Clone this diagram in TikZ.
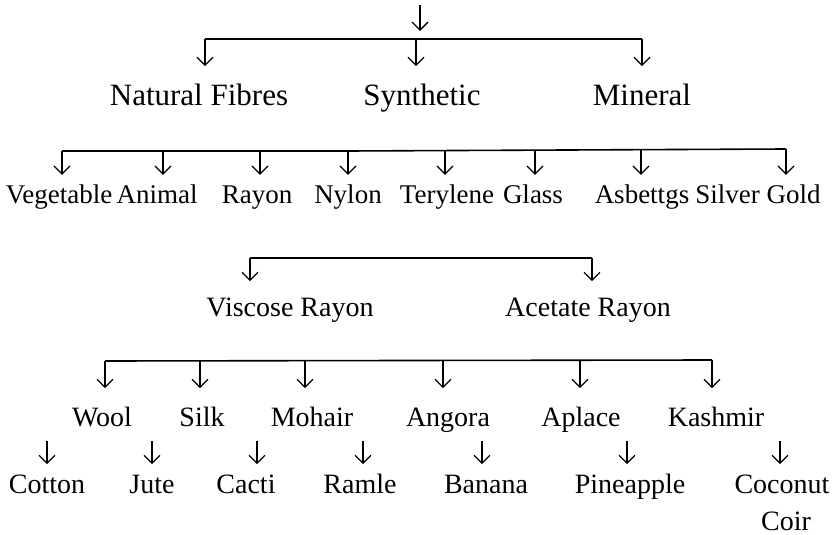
\documentclass[tikz,border=0pt]{standalone}
\usepackage{fontspec}
\setmainfont{Liberation Serif}
\usetikzlibrary{arrows.meta}

\begin{document}
\begin{tikzpicture}[x=1pt,y=-1pt, lbl/.style={anchor=base,inner sep=0pt,text height=19.6pt,text depth=6pt,font=\fontsize{28}{30}\selectfont}, big/.style={lbl,text height=21.7pt,font=\fontsize{31}{33}\selectfont}, sml/.style={lbl,text height=18.9pt,font=\fontsize{27}{29}\selectfont}, bar/.style={line width=1.6pt}, arr/.style={line width=1.3pt,-{Straight Barb[length=8pt,width=16pt]}}]
\useasboundingbox (0,0) rectangle (836,535);
% fibres
\coordinate (top) at (420,5);
\coordinate (b1l) at (205,39); \coordinate (b1m) at (416,39); \coordinate (b1r) at (642,39);
\node[big] (nat) at (199,106) {Natural Fibres};
\node[big] (syn) at (422,106) {Synthetic};
\node[big] (min) at (642,106) {Mineral};
\draw[arr,shorten >=8pt] (top) -- (top |- b1l);
\draw[bar] (b1l) -- (b1r);
\draw[arr,shorten >=18pt] (b1l) -- (b1l |- nat.north); \draw[arr,shorten >=18pt] (b1m) -- (b1m |- syn.north); \draw[arr,shorten >=18pt] (b1r) -- (b1r |- min.north);
% kinds
\coordinate (b2a) at (62,151); \coordinate (b2b) at (163,151); \coordinate (b2c) at (260,151); \coordinate (b2d) at (348,151);
\coordinate (b2e) at (445,150); \coordinate (b2f) at (535,150); \coordinate (b2g) at (641,149); \coordinate (b2h) at (786,149);
\node[sml] (veg) at (59,203) {Vegetable};
\node[sml] (ani) at (157,203) {Animal};
\node[sml] (ray) at (257,203) {Rayon};
\node[sml] (nyl) at (348,203) {Nylon};
\node[sml] (ter) at (447,203) {Terylene};
\node[sml] (gla) at (533,203) {Glass};
\node[sml] (asb) at (642,203) {Asbettgs};
\node[sml] (sil) at (758,203) {Silver Gold};
\draw[bar] (b2a) -- (b2d) -- (b2h);
\draw[arr,shorten >=9pt] (b2a) -- (b2a |- veg.north); \draw[arr,shorten >=9pt] (b2b) -- (b2b |- ani.north); \draw[arr,shorten >=9pt] (b2c) -- (b2c |- ray.north); \draw[arr,shorten >=9pt] (b2d) -- (b2d |- nyl.north);
\draw[arr,shorten >=9pt] (b2e) -- (b2e |- ter.north); \draw[arr,shorten >=9pt] (b2f) -- (b2f |- gla.north); \draw[arr,shorten >=9pt] (b2g) -- (b2g |- asb.north); \draw[arr,shorten >=9pt] (b2h) -- (b2h |- sil.north);
% rayon
\coordinate (b3l) at (250,258); \coordinate (b3r) at (592,258);
\node[lbl] (vis) at (290,316) {Viscose Rayon};
\node[lbl] (ace) at (588,316) {Acetate Rayon};
\draw[bar] (b3l) -- (b3r);
\draw[arr,shorten >=15pt] (b3l) -- (b3l |- vis.north); \draw[arr,shorten >=15pt] (b3r) -- (b3r |- ace.north);
% animal
\coordinate (b4a) at (105,361); \coordinate (b4b) at (200,361); \coordinate (b4c) at (305,361);
\coordinate (b4d) at (443,360); \coordinate (b4e) at (580,360); \coordinate (b4f) at (712,360);
\node[lbl] (woo) at (102,426) {Wool};
\node[lbl] (sil2) at (202,426) {Silk};
\node[lbl] (moh) at (312,426) {Mohair};
\node[lbl] (ang) at (448,426) {Angora};
\node[lbl] (apl) at (581,426) {Aplace};
\node[lbl] (kas) at (716,426) {Kashmir};
\draw[bar] (b4a) -- (b4f);
\draw[arr,shorten >=18pt] (b4a) -- (b4a |- woo.north); \draw[arr,shorten >=18pt] (b4b) -- (b4b |- sil2.north); \draw[arr,shorten >=18pt] (b4c) -- (b4c |- moh.north);
\draw[arr,shorten >=18pt] (b4d) -- (b4d |- ang.north); \draw[arr,shorten >=18pt] (b4e) -- (b4e |- apl.north); \draw[arr,shorten >=18pt] (b4f) -- (b4f |- kas.north);
% vegetable
\coordinate (c1) at (47,441); \coordinate (c2) at (152,441); \coordinate (c3) at (257,441); \coordinate (c4) at (363,441);
\coordinate (c5) at (482,441); \coordinate (c6) at (627,441); \coordinate (c7) at (780,441);
\node[lbl] (cot) at (47,493) {Cotton};
\node[lbl] (jut) at (152,493) {Jute};
\node[lbl] (cac) at (246,493) {Cacti};
\node[lbl] (ram) at (360,493) {Ramle};
\node[lbl] (ban) at (486,493) {Banana};
\node[lbl] (pin) at (630,493) {Pineapple};
\node[lbl] (coc) at (782,493) {Coconut};
\node[lbl] (coi) at (786,530) {Coir};
\draw[arr,shorten >=9pt] (c1) -- (c1 |- cot.north); \draw[arr,shorten >=9pt] (c2) -- (c2 |- jut.north); \draw[arr,shorten >=9pt] (c3) -- (c3 |- cac.north); \draw[arr,shorten >=9pt] (c4) -- (c4 |- ram.north);
\draw[arr,shorten >=9pt] (c5) -- (c5 |- ban.north); \draw[arr,shorten >=9pt] (c6) -- (c6 |- pin.north); \draw[arr,shorten >=9pt] (c7) -- (c7 |- coc.north);
\end{tikzpicture}
\end{document}
